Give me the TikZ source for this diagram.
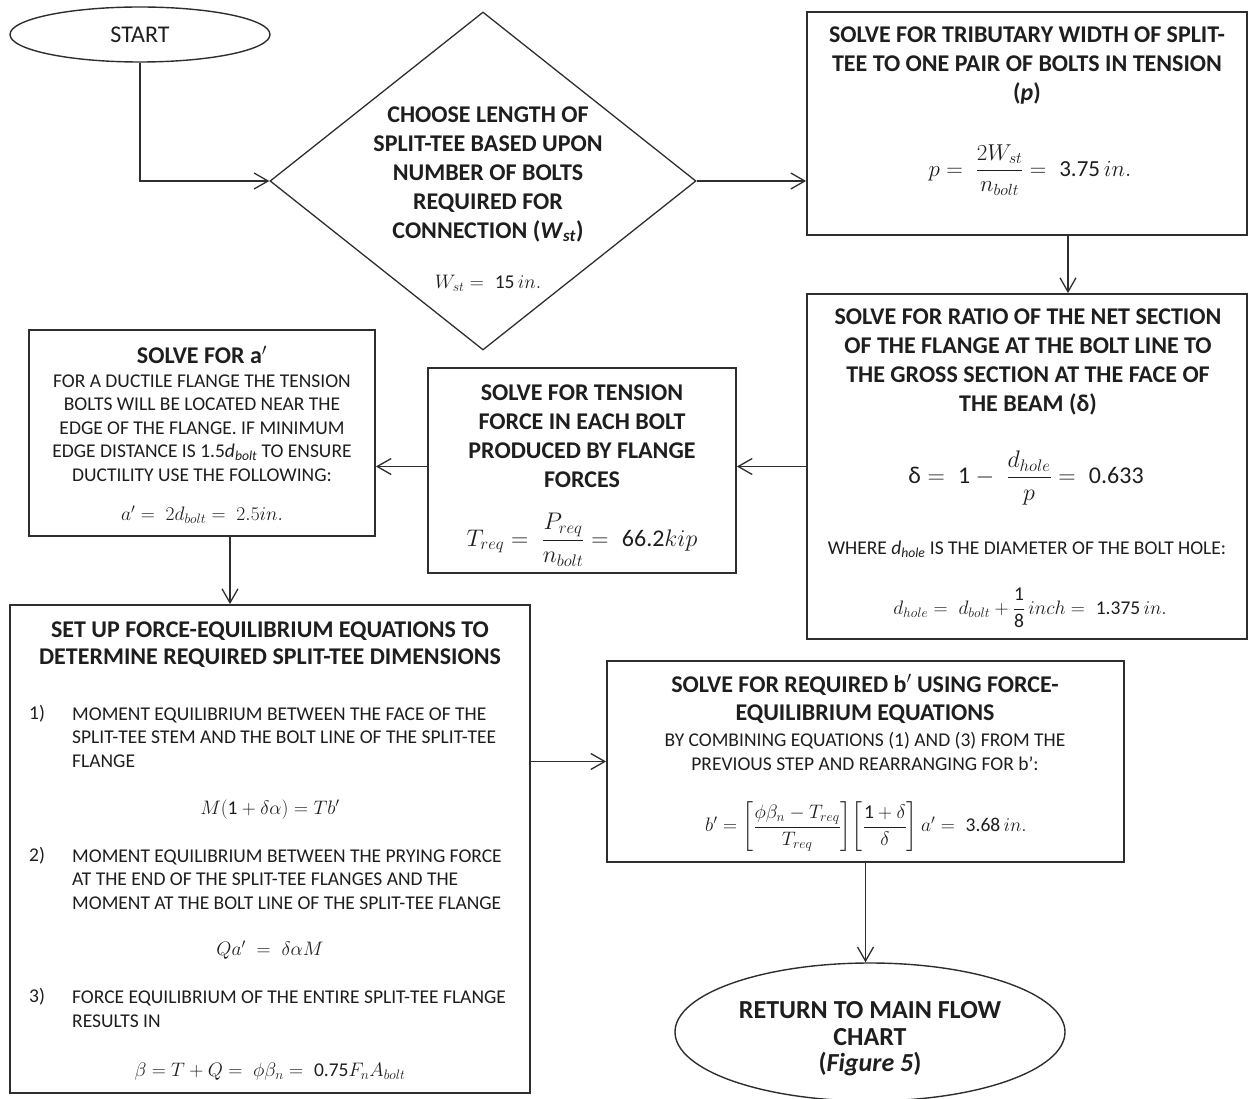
\RequirePackage{fix-cm}
\documentclass[tikz,border=0pt]{standalone}
\usepackage{amsmath}
\usepackage{fontspec}
\setmainfont{Carlito}
\usetikzlibrary{shapes.geometric,arrows.meta,calc}

\definecolor{ink}{HTML}{1E1E1E}
\definecolor{edge}{HTML}{2E2E2E}
% numbers inside formulas are set in the text face
\newcommand{\numtxt}[1]{\text{#1}}

\begin{document}
\begin{tikzpicture}[x=1pt,y=-1pt,
  every node/.style={text=ink},
  stepbox/.style={draw=edge, line width=1.8pt, rectangle, inner sep=0pt},
  terminal/.style={draw=edge, line width=1.4pt, ellipse, inner sep=0pt},
  decision/.style={draw=edge, line width=1.3pt, diamond, inner sep=0pt},
  arr/.style={draw=edge, line width=1.3pt, -{Straight Barb[length=14pt,width=16pt]}},
  ttl/.style={font=\bfseries\fontsize{24}{29}\selectfont, align=center, inner sep=0pt},
  bdy/.style={font=\fontsize{19.5}{23.5}\selectfont, align=center, inner sep=0pt},
  item/.style={font=\fontsize{19.5}{23.5}\selectfont, align=left, inner sep=0pt, anchor=west},
  eqn/.style={font=\fontsize{#1}{#1}\selectfont, inner sep=0pt},
  eqn/.default=19.5,
]
\useasboundingbox (0,0) rectangle (1248,1099);

% ---------- shapes ----------
\node[terminal, minimum width=260pt, minimum height=55pt,
      font=\fontsize{24}{29}\selectfont] (start) at (140,34.5) {START};
\node[decision, minimum width=426pt, minimum height=338pt] (choose) at (483,181) {};
\node[stepbox, minimum width=440pt, minimum height=223pt] (trib) at (1027,123.5) {};
\node[stepbox, minimum width=440pt, minimum height=345pt] (delta) at (1027,466.5) {};
\node[stepbox, minimum width=308pt, minimum height=205pt] (tension) at (582,470.5) {};
\node[stepbox, minimum width=346pt, minimum height=206pt] (aprime) at (202,433) {};
\node[stepbox, minimum width=520pt, minimum height=488pt] (equil) at (270,849) {};
\node[stepbox, minimum width=517pt, minimum height=201pt] (bprime) at (865.5,761.5) {};
\node[terminal, minimum width=390pt, minimum height=138pt] (ret) at (870,1032) {};

% ---------- decision: length of split-tee ----------
\node[ttl] (chooseT) at (488,174) {CHOOSE LENGTH OF\\SPLIT-TEE BASED UPON\\NUMBER OF BOLTS\\REQUIRED FOR\\CONNECTION (\textit{W}\textsubscript{\textit{st}})};
\node[eqn] (chooseF) at (488,283) {$W_{st} = \;\numtxt{15}\,in.$};

% ---------- tributary width ----------
\node[ttl] (tribT) at (1027,65.5) {SOLVE FOR TRIBUTARY WIDTH OF SPLIT-\\TEE TO ONE PAIR OF BOLTS IN TENSION\\(\textit{p})};
\node[eqn=23] (tribF) at (1030,170) {$p = \;\dfrac{2W_{st}}{n_{bolt}} = \;\numtxt{3.75}\,in.$};

% ---------- net / gross section ratio ----------
\node[ttl] (deltaT) at (1028,362) {SOLVE FOR RATIO OF THE NET SECTION\\OF THE FLANGE AT THE BOLT LINE TO\\THE GROSS SECTION AT THE FACE OF\\THE BEAM (δ)};
\node[eqn=24] (deltaF) at (1026,478) {$\text{δ} = \;\numtxt{1} - \;\dfrac{d_{hole}}{p} = \;\numtxt{0.633}$};
\node[bdy] (deltaW) at (1027,549) {WHERE \textit{d}\textsubscript{\textit{hole}} IS THE DIAMETER OF THE BOLT HOLE:};
\node[eqn] (deltaH) at (1030,608) {$d_{hole} = \;d_{bolt} + \dfrac{\numtxt{1}}{\numtxt{8}}\,inch = \;\numtxt{1.375}\,in.$};

% ---------- bolt tension ----------
\node[ttl] (tensionT) at (582,436.5) {SOLVE FOR TENSION\\FORCE IN EACH BOLT\\PRODUCED BY FLANGE\\FORCES};
\node[eqn=24] (tensionF) at (582,540) {$T_{req} = \;\dfrac{P_{req}}{n_{bolt}} = \;\numtxt{66.2}kip$};

% ---------- edge distance a' ----------
\node[ttl] (aprimeT) at (202,355) {SOLVE FOR a$'$};
\node[bdy] (aprimeB) at (202,428) {FOR A DUCTILE FLANGE THE TENSION\\BOLTS WILL BE LOCATED NEAR THE\\EDGE OF THE FLANGE. IF MINIMUM\\EDGE DISTANCE IS 1.5\textit{d}\textsubscript{\textit{bolt}} TO ENSURE\\DUCTILITY USE THE FOLLOWING:};
\node[eqn] (aprimeF) at (202,515) {$a' = \;2d_{bolt} = \;2.5in.$};

% ---------- equilibrium equations ----------
\node[ttl, font=\bfseries\fontsize{24}{27}\selectfont] (equilT) at (270,645) {SET UP FORCE-EQUILIBRIUM EQUATIONS TO\\DETERMINE REQUIRED SPLIT-TEE DIMENSIONS};
\node[item] (n1) at (29,714) {1)};
\node[item] (i1) at (72,737.5) {MOMENT EQUILIBRIUM BETWEEN THE FACE OF THE\\SPLIT-TEE STEM AND THE BOLT LINE OF THE SPLIT-TEE\\FLANGE};
\node[eqn] (e1) at (270,810) {$M(\numtxt{1} + \delta\alpha) = Tb'$};
\node[item] (n2) at (29,856) {2)};
\node[item] (i2) at (72,879.5) {MOMENT EQUILIBRIUM BETWEEN THE PRYING FORCE\\AT THE END OF THE SPLIT-TEE FLANGES AND THE\\MOMENT AT THE BOLT LINE OF THE SPLIT-TEE FLANGE};
\node[eqn] (e2) at (270,950) {$Qa' \;= \;\delta\alpha M$};
\node[item] (n3) at (29,997) {3)};
\node[item] (i3) at (72,1009) {FORCE EQUILIBRIUM OF THE ENTIRE SPLIT-TEE FLANGE\\RESULTS IN};
\node[eqn] (e3) at (270,1072) {$\beta = T + Q = \;\phi\beta_n = \;\numtxt{0.75}F_nA_{bolt}$};

% ---------- required b' ----------
\node[ttl, font=\bfseries\fontsize{24}{28}\selectfont] (bprimeT) at (865,699) {SOLVE FOR REQUIRED b$'$ USING FORCE-\\EQUILIBRIUM EQUATIONS};
\node[bdy, font=\fontsize{19.5}{24}\selectfont] (bprimeB) at (865,751) {BY COMBINING EQUATIONS (1) AND (3) FROM THE\\PREVIOUS STEP AND REARRANGING FOR b’:};
\node[eqn] (bprimeF) at (866,827) {$b' = \left[\dfrac{\phi\beta_n - T_{req}}{T_{req}}\right]\!\left[\dfrac{\numtxt{1}+\delta}{\delta}\right]a' = \;\numtxt{3.68}\,in.$};

% ---------- return ----------
\node[ttl, font=\bfseries\fontsize{26}{26.5}\selectfont] (retT) at (870,1039) {RETURN TO MAIN FLOW\\CHART\\(\textit{Figure 5})};

% ---------- connectors ----------
\coordinate (tout) at ($(trib.south)+(41,0)$);
\coordinate (aout) at ($(aprime.south)+(28,0)$);
\draw[arr] (start.south) |- (choose.west);
\draw[arr] (choose.east) -- (trib.west |- choose.east);
\draw[arr] (tout) -- (tout |- delta.north);
\draw[arr] (delta.west) -- (tension.east |- delta.west);
\draw[arr] (tension.west |- delta.west) -- (aprime.east |- delta.west);
\draw[arr] (aout) -- (aout |- equil.north);
\draw[arr] (equil.east |- bprime.west) -- (bprime.west);
\draw[arr] (bprime.south) -- (bprime.south |- ret.north);
\end{tikzpicture}
\end{document}
